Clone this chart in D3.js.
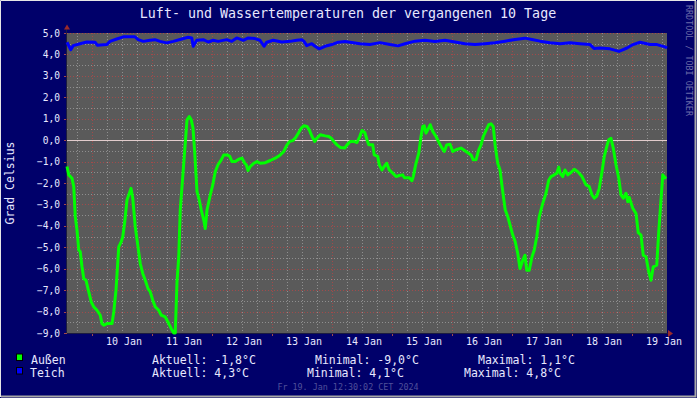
<!DOCTYPE html>
<html>
<head>
<meta charset="utf-8">
<script src="https://cdn.jsdelivr.net/npm/d3@7"></script>
<style>
  html, body { margin: 0; padding: 0; background: #00006a; }
  svg { display: block; }
  text { font-family: "DejaVu Sans Mono", monospace; }
</style>
</head>
<body>
<svg id="chart" width="697" height="398"></svg>
<script>
// ------------------------------------------------------
// DATA
// ------------------------------------------------------

// hours after 9 Jan 14:00 (UTC) and temperatures in °C
var aussenHours = [0, 0.7, 2, 2.7, 3.3, 4, 4.7, 5.3, 6, 6.7, 7.6, 8.7, 9.7, 10.7, 12, 13.3, 14, 14.7, 16, 18,
  18.7, 19.6, 20.7, 21.7, 22.3, 23.1, 24, 24.7, 25.6, 26.3, 27.3, 28.4, 29.3, 30.3, 31.3, 32.4, 33.3, 34.3, 35.3, 36.7,
  37.7, 39.3, 40.7, 41.7, 42.7, 43.3, 44, 44.7, 45.3, 46.3, 47.1, 48, 48.9, 49.7, 50.4, 51.1, 52, 52.9, 53.7, 54.7,
  55.3, 56, 57.3, 58.3, 59.3, 60.4, 61.7, 62.7, 64, 65.1, 66, 67.3, 68.7, 70, 71.1, 71.7, 72.4, 73.3, 74.7, 76,
  77.3, 79.3, 81.3, 83.3, 85.3, 86.7, 88, 89.1, 90.3, 91.3, 92.7, 93.7, 94.7, 96, 96.9, 98, 99.1, 100, 101.3, 103.3,
  104.7, 105.7, 106.7, 108, 109.3, 111.1, 112, 113.3, 114.7, 116, 117.1, 118, 119.1, 120, 120.7, 122.3, 122.9, 124.3, 124.9, 126,
  126.9, 127.9, 128.9, 130.3, 131.6, 132.9, 134.3, 134.9, 136.9, 138, 138.5, 139.6, 140.7, 141.6, 142.3, 142.9, 143.6, 144.3, 145.3, 146.3,
  147.6, 148.9, 150, 150.9, 151.9, 153.2, 154.3, 155.6, 157.6, 159.6, 161.6, 162.5, 163.6, 164.7, 165.6, 166.5, 167.6, 168.7, 169.6, 170.5,
  171.3, 172.3, 173.2, 174.3, 175.3, 176.3, 177.2, 178.3, 179.3, 180.3, 181.2, 182.3, 183.2, 183.9, 184.9, 186, 186.9, 187.9, 188.9, 190.3,
  191.6, 192.7, 193.6, 194.9, 195.9, 196.7, 197.2, 198.3, 199.2, 200.3, 201.6, 202.9, 204.3, 206, 207.6, 208.9, 210, 210.9, 211.9, 212.9,
  214, 214.9, 215.9, 216.7, 217.6, 218.5, 219.6, 220.7, 221.6, 222.5, 223.6, 224.3, 224.9, 226.3, 227.6, 228.5, 229.6, 230.5, 231.6, 232.7,
  233.6, 234.5, 235.9, 236.7, 237.6, 238.3, 239.6];
var aussenTemp = [-1.23, -1.62, -1.78, -2.17, -3.57, -4.2, -5.13, -5.21, -5.91, -6.46, -6.54, -7.08, -7.55, -7.78, -7.94, -8.17, -8.56, -8.64, -8.56, -8.56,
  -8.02, -7.0, -4.98, -4.74, -4.51, -3.81, -2.79, -2.56, -2.25, -2.71, -4.04, -4.98, -5.76, -6.22, -6.54, -6.93, -7.08, -7.47, -7.78, -7.94,
  -8.17, -8.25, -8.56, -8.8, -9.0, -9.0, -6.61, -5.44, -3.26, -1.7, -0.45, 0.95, 1.1, 0.95, 0.56, -0.61, -2.4, -2.79, -3.26, -3.73,
  -4.12, -3.26, -2.56, -2.09, -1.47, -1.15, -0.92, -0.69, -0.69, -0.76, -1.0, -1.0, -0.89, -0.84, -1.08, -1.15, -1.42, -1.23, -1.08, -1.0,
  -1.08, -1.05, -0.95, -0.84, -0.69, -0.53, -0.22, -0.06, -0.02, 0.09, 0.36, 0.56, 0.67, 0.64, 0.48, 0.17, -0.06, 0.09, 0.25, 0.2,
  0.17, 0.09, -0.06, -0.22, -0.34, -0.37, -0.22, -0.06, -0.06, -0.11, 0.17, 0.45, 0.36, 0.02, -0.22, -0.22, -0.69, -0.76, -1.15, -1.39,
  -1.23, -1.08, -1.39, -1.54, -1.7, -1.65, -1.62, -1.75, -1.75, -1.89, -1.7, -1.08, -0.61, 0.17, 0.64, 0.67, 0.33, 0.48, 0.72, 0.41,
  0.17, -0.14, -0.37, -0.53, -0.22, -0.19, -0.53, -0.45, -0.37, -0.53, -0.69, -0.92, -0.92, -0.45, -0.22, 0.17, 0.45, 0.72, 0.76, 0.64,
  -0.3, -1.08, -1.39, -2.4, -3.26, -3.57, -3.96, -4.43, -4.74, -5.29, -5.99, -5.6, -5.37, -6.07, -6.07, -5.44, -5.13, -4.51, -3.57, -2.95,
  -2.48, -1.86, -1.7, -1.62, -1.54, -1.26, -1.54, -1.7, -1.39, -1.62, -1.51, -1.36, -1.47, -1.7, -2.09, -2.17, -2.56, -2.71, -2.61, -2.25,
  -1.47, -0.76, -0.3, 0.02, 0.09, -0.37, -1.15, -1.78, -2.56, -2.71, -2.48, -2.87, -2.67, -3.18, -3.42, -4.32, -4.43, -5.37, -5.44, -6.15,
  -6.54, -5.91, -5.83, -4.27, -2.79, -1.62, -1.8];

var teichHours = [0, 1.5, 2.5, 5.2, 7.9, 11.2, 12.1, 15.9, 17.2, 19.9, 22.5, 27.2, 28.5, 30.5, 33.2, 35.2, 37.2, 39.9, 42.5, 45.9,
  48.5, 49.9, 50.5, 51.9, 54.5, 56.5, 58.5, 60.5, 63.9, 65.9, 67.9, 70.5, 72.5, 75.2, 77.2, 78.8, 79.9, 82.5, 85.9, 89.2,
  91.9, 93.9, 94.8, 95.9, 97.9, 99.2, 100.9, 103.2, 105.9, 108.5, 111.2, 113.2, 117.2, 121.2, 125.2, 129.2, 132.4, 135.2, 139.2, 143.2,
  147.2, 151.2, 155.2, 159.2, 163.2, 167.2, 171.2, 175.2, 179.2, 183.2, 186, 189.2, 193.2, 197.2, 201.2, 205.2, 209.2, 210.8, 213.2, 217.2,
  220.8, 224, 226.4, 229.2, 233.2, 236, 239.2, 240];
var teichTemp = [4.57, 4.22, 4.41, 4.5, 4.58, 4.57, 4.43, 4.46, 4.61, 4.72, 4.82, 4.82, 4.69, 4.61, 4.66, 4.69, 4.61, 4.54, 4.61, 4.72,
  4.8, 4.77, 4.38, 4.66, 4.69, 4.58, 4.66, 4.61, 4.69, 4.61, 4.77, 4.66, 4.77, 4.74, 4.66, 4.38, 4.57, 4.66, 4.58, 4.61,
  4.66, 4.69, 4.61, 4.41, 4.5, 4.38, 4.26, 4.38, 4.46, 4.57, 4.6, 4.57, 4.5, 4.46, 4.55, 4.46, 4.4, 4.5, 4.62, 4.66,
  4.6, 4.66, 4.58, 4.5, 4.46, 4.5, 4.55, 4.62, 4.7, 4.76, 4.7, 4.62, 4.55, 4.5, 4.55, 4.5, 4.46, 4.28, 4.3, 4.26,
  4.14, 4.3, 4.46, 4.57, 4.46, 4.46, 4.35, 4.3];

var yTicks = [5, 4, 3, 2, 1, 0, -1, -2, -3, -4, -5, -6, -7, -8, -9];
var legendRows = [
  {name: "Außen", color: "#00ff00", aktuell: "-1,8°C", minimal: "-9,0°C", maximal: "1,1°C"},
  {name: "Teich", color: "#0000ff", aktuell: "4,3°C", minimal: "4,1°C", maximal: "4,8°C"}
];

// ------------------------------------------------------
// SETUP
// ------------------------------------------------------

var svg = d3.select("#chart");
var t0 = Date.UTC(2024, 0, 9, 14, 0);
var t1 = t0 + 240 * 3600e3;
var plotLeft = 67, plotRight = 667, plotTop = 33, plotBottom = 333;

var x = d3.scaleUtc()
  .domain([new Date(t0), new Date(t1)])
  .range([plotLeft, plotRight]);
var y = d3.scaleLinear().domain([-9, 5]).range([plotBottom, plotTop]);

function toPoints(hours, temps) {
  return hours.map(function (h, i) { return {t: new Date(t0 + h * 3600e3), v: temps[i]}; });
}

// frame
svg.append("rect").attr("width", 697).attr("height", 398).attr("fill", "#00006a");
svg.append("path").attr("d", "M0.5,397 V0.5 H696").attr("stroke", "#e6e6e6").attr("fill", "none");
svg.append("path").attr("d", "M1,396.5 H695.5 V1").attr("stroke", "#a8a8a8").attr("stroke-width", 2).attr("fill", "none");

// plot background
svg.append("rect").attr("x", plotLeft).attr("y", plotTop)
  .attr("width", plotRight - plotLeft).attr("height", plotBottom - plotTop)
  .attr("fill", "#5a5a5a");

// ------------------------------------------------------
// GRID
// ------------------------------------------------------

var minorX = d3.utcHour.every(6).range(new Date(t0), new Date(t1));
var majorX = d3.utcDay.range(new Date(t0), new Date(t1));
var minorY = d3.range(-8.5, 5, 1);

function px(v) { return Math.round(v) + 0.5; }

var grid = svg.append("g").attr("shape-rendering", "crispEdges");
grid.selectAll(".mx").data(minorX).enter().append("line")
  .attr("x1", function (d) { return px(x(d)); })
  .attr("x2", function (d) { return px(x(d)); })
  .attr("y1", plotTop).attr("y2", plotBottom)
  .attr("stroke", "#8f8f8f").attr("stroke-dasharray", "1,2");
grid.selectAll(".my").data(minorY).enter().append("line")
  .attr("x1", plotLeft).attr("x2", plotRight)
  .attr("y1", function (d) { return px(y(d)); })
  .attr("y2", function (d) { return px(y(d)); })
  .attr("stroke", "#8f8f8f").attr("stroke-dasharray", "1,2");
grid.selectAll(".Mx").data(majorX).enter().append("line")
  .attr("x1", function (d) { return px(x(d)); })
  .attr("x2", function (d) { return px(x(d)); })
  .attr("y1", plotTop).attr("y2", plotBottom)
  .attr("stroke", "#a24a4a").attr("stroke-dasharray", "1,2");
grid.selectAll(".My").data(yTicks).enter().append("line")
  .attr("x1", plotLeft).attr("x2", plotRight)
  .attr("y1", function (d) { return px(y(d)); })
  .attr("y2", function (d) { return px(y(d)); })
  .attr("stroke", "#a24a4a").attr("stroke-dasharray", "1,2");

// ticks outside the plot
grid.selectAll(".tx").data(majorX).enter().append("line")
  .attr("x1", function (d) { return px(x(d)); })
  .attr("x2", function (d) { return px(x(d)); })
  .attr("y1", plotBottom).attr("y2", plotBottom + 3)
  .attr("stroke", "#a24a4a");
grid.selectAll(".ty").data(yTicks).enter().append("line")
  .attr("x1", plotLeft - 3).attr("x2", plotLeft)
  .attr("y1", function (d) { return px(y(d)); })
  .attr("y2", function (d) { return px(y(d)); })
  .attr("stroke", "#a24a4a");

// zero line
svg.append("line").attr("x1", plotLeft).attr("x2", plotRight)
  .attr("y1", px(y(0))).attr("y2", px(y(0)))
  .attr("stroke", "#e2cccc").attr("shape-rendering", "crispEdges");

// axes lines + arrows
svg.append("line").attr("x1", plotLeft - 0.5).attr("x2", plotLeft - 0.5)
  .attr("y1", plotTop - 4).attr("y2", plotBottom)
  .attr("stroke", "#1c1c40");
svg.append("line").attr("x1", plotLeft).attr("x2", plotRight + 2)
  .attr("y1", plotBottom + 0.5).attr("y2", plotBottom + 0.5)
  .attr("stroke", "#1c1c40");
svg.append("path").attr("d", "M64,29.5 L67,24.5 L70,29.5 Z").attr("fill", "#9a2a2a");
svg.append("path").attr("d", "M668,330 L673,333.5 L668,337 Z").attr("fill", "#9a2a2a");

// ------------------------------------------------------
// LINES
// ------------------------------------------------------

var line = d3.line()
  .x(function (d) { return x(d.t); })
  .y(function (d) { return y(d.v); });

svg.append("path").datum(toPoints(teichHours, teichTemp))
  .attr("d", line).attr("fill", "none")
  .attr("stroke", "#0000ff").attr("stroke-width", 3).attr("stroke-linejoin", "round");

svg.append("path").datum(toPoints(aussenHours, aussenTemp))
  .attr("d", line).attr("fill", "none")
  .attr("stroke", "#00ff00").attr("stroke-width", 3).attr("stroke-linejoin", "round");

// ------------------------------------------------------
// TEXT
// ------------------------------------------------------

svg.append("text").attr("x", 348).attr("y", 18)
  .attr("text-anchor", "middle").attr("font-size", "13.3px").attr("fill", "#e8e8ff")
  .text("Luft- und Wassertemperaturen der vergangenen 10 Tage");

svg.selectAll(".ylab").data(yTicks).enter().append("text")
  .attr("x", 60).attr("y", function (d) { return y(d) + 3.5; })
  .attr("text-anchor", "end").attr("font-size", "9.6px").attr("fill", "#e8e8ff")
  .text(function (d) { return d3.format(".1f")(d).replace(".", ","); });

// day labels sit at noon of each day
var dayLabels = majorX.map(function (d) { return new Date(d.getTime() + 12 * 3600e3); });
svg.selectAll(".xlab").data(dayLabels).enter().append("text")
  .attr("x", function (d) { return x(d) + 2; }).attr("y", 345)
  .attr("text-anchor", "middle").attr("font-size", "10px").attr("fill", "#e8e8ff")
  .text(function (d) { return d3.utcFormat("%d %b")(d); });

svg.append("text")
  .attr("transform", "translate(14,183) rotate(-90)")
  .attr("text-anchor", "middle").attr("font-size", "11.5px").attr("fill", "#e8e8ff")
  .text("Grad Celsius");

svg.append("text")
  .attr("transform", "translate(686,5) rotate(90)")
  .attr("font-size", "8.4px").attr("fill", "#6c6ca8")
  .text("RRDTOOL / TOBI OETIKER");

// legend
var legendX = [[152, 315, 478], [152, 307, 464]];
legendRows.forEach(function (r, i) {
  var yy = 363.5 + i * 13.5;
  svg.append("rect").attr("x", 16.5).attr("y", yy - 9.5).attr("width", 6).attr("height", 6.5)
    .attr("fill", r.color).attr("stroke", "#000000");
  svg.append("text").attr("x", i === 0 ? 31 : 30).attr("y", yy)
    .attr("font-size", "11.5px").attr("fill", "#e8e8ff").text(r.name);
  svg.append("text").attr("x", legendX[i][0]).attr("y", yy)
    .attr("font-size", "11.5px").attr("fill", "#e8e8ff").text("Aktuell: " + r.aktuell);
  svg.append("text").attr("x", legendX[i][1]).attr("y", yy)
    .attr("font-size", "11.5px").attr("fill", "#e8e8ff").text("Minimal: " + r.minimal);
  svg.append("text").attr("x", legendX[i][2]).attr("y", yy)
    .attr("font-size", "11.5px").attr("fill", "#e8e8ff").text("Maximal: " + r.maximal);
});

svg.append("text").attr("x", 348).attr("y", 389.5)
  .attr("text-anchor", "middle").attr("font-size", "8.4px").attr("fill", "#50509a")
  .text("Fr 19. Jan 12:30:02 CET 2024");
</script>
</body>
</html>
